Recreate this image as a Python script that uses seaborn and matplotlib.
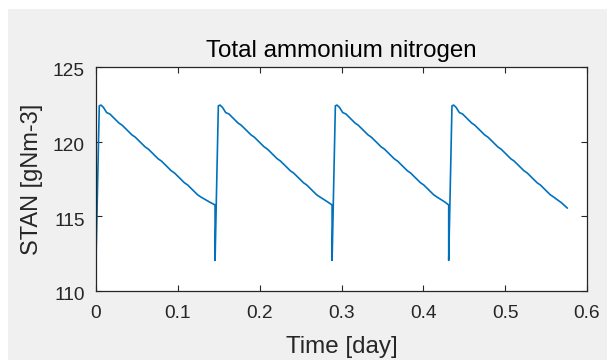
import matplotlib
matplotlib.use("Agg")
import matplotlib.pyplot as plt
from matplotlib.patches import Rectangle
import matplotlib.transforms as mtransforms
import seaborn as sns
import pandas as pd

# ---- data ----
t_c1 = [0.000, 0.004, 0.006, 0.009, 0.013, 0.017, 0.028, 0.032, 0.044, 0.048, 0.060,
        0.064, 0.076, 0.080, 0.092, 0.096, 0.108, 0.112, 0.124, 0.128, 0.139, 0.1455]
t_c2 = [0.1455, 0.1495, 0.1515, 0.1545, 0.1585, 0.1625, 0.1735, 0.1775, 0.1895, 0.1935, 0.2055,
        0.2095, 0.2215, 0.2255, 0.2375, 0.2415, 0.2535, 0.2575, 0.2695, 0.2735, 0.2835, 0.2885]
t_c3 = [0.2885, 0.2925, 0.2945, 0.2975, 0.3015, 0.3055, 0.3165, 0.3205, 0.3325, 0.3365, 0.3485,
        0.3525, 0.3645, 0.3685, 0.3805, 0.3845, 0.3965, 0.4005, 0.4125, 0.4165, 0.4265, 0.4310]
t_c4 = [0.431, 0.435, 0.437, 0.440, 0.444, 0.448, 0.459, 0.463, 0.475, 0.479, 0.491,
        0.495, 0.507, 0.511, 0.523, 0.527, 0.539, 0.543, 0.555, 0.559, 0.569, 0.576]

v_c1 = [112.05, 122.40, 122.45, 122.30, 121.95, 121.85, 121.25, 121.10, 120.45, 120.30, 119.65,
        119.50, 118.85, 118.70, 118.05, 117.90, 117.25, 117.10, 116.45, 116.30, 115.95, 115.76]
v_c2 = [112.05, 122.40, 122.45, 122.30, 121.95, 121.85, 121.25, 121.10, 120.45, 120.30, 119.65,
        119.50, 118.85, 118.70, 118.05, 117.90, 117.25, 117.10, 116.45, 116.30, 115.95, 115.76]
v_c3 = [112.05, 122.40, 122.45, 122.30, 121.95, 121.85, 121.25, 121.10, 120.45, 120.30, 119.65,
        119.50, 118.85, 118.70, 118.05, 117.90, 117.25, 117.10, 116.45, 116.30, 115.95, 115.76]
v_c4 = [112.05, 122.40, 122.45, 122.30, 121.95, 121.85, 121.25, 121.10, 120.45, 120.30, 119.65,
        119.50, 118.85, 118.70, 118.05, 117.90, 117.25, 117.10, 116.45, 116.30, 115.90, 115.55]

x_ticks = [0, 0.1, 0.2, 0.3, 0.4, 0.5, 0.6]
x_tick_labels = ["0", "0.1", "0.2", "0.3", "0.4", "0.5", "0.6"]
y_ticks = [110, 115, 120, 125]
y_tick_labels = ["110", "115", "120", "125"]

title = "Total ammonium nitrogen"
xlabel = "Time [day]"
ylabel = "STAN [gNm-3]"

df = pd.DataFrame({
    "t": t_c1 + t_c2 + t_c3 + t_c4,
    "v": v_c1 + v_c2 + v_c3 + v_c4,
})

# ---- style ----
sns.set_theme(style="ticks")
plt.rcParams["font.family"] = ["Liberation Sans", "DejaVu Sans"]
txt = "#262626"

fig = plt.figure(figsize=(6.07, 3.60), dpi=100)
fig.patch.set_facecolor("white")
fig.patches.append(Rectangle((8 / 607, 0), 1, 1 - 9 / 360, transform=fig.transFigure,
                             facecolor="#f0f0f0", edgecolor="none", zorder=-10))

ax = fig.add_axes([96 / 607, 69 / 360, 491 / 607, 224 / 360])
ax.set_facecolor("white")

sns.lineplot(data=df, x="t", y="v", sort=False, estimator=None, ax=ax,
             color="#0072BD", linewidth=1.2)

ax.set_xlim(0, 0.6)
ax.set_ylim(110, 125)
ax.set_xticks(x_ticks)
ax.set_xticklabels(x_tick_labels)
ax.set_yticks(y_ticks)
ax.set_yticklabels(y_tick_labels)

for s in ax.spines.values():
    s.set_visible(True)
    s.set_color(txt)
    s.set_linewidth(0.9)

ax.tick_params(axis="both", which="both", direction="in", length=4.5, width=0.8,
               colors=txt, labelsize=13.8, top=True, right=True)
ax.tick_params(axis="y", pad=8)
ax.tick_params(axis="x", pad=10)

# small downward shift of y tick labels as in the reference
shift = mtransforms.ScaledTranslation(0, -3 / 100, fig.dpi_scale_trans)
for lab in ax.get_yticklabels():
    lab.set_transform(lab.get_transform() + shift)

ax.set_title(title, fontsize=17.4, color="black", pad=7)
ax.set_xlabel(xlabel, fontsize=17.4, color=txt, labelpad=10)
ax.set_ylabel(ylabel, fontsize=17, color=txt, labelpad=7)

fig.savefig("out.png", dpi=100, facecolor=fig.get_facecolor())
